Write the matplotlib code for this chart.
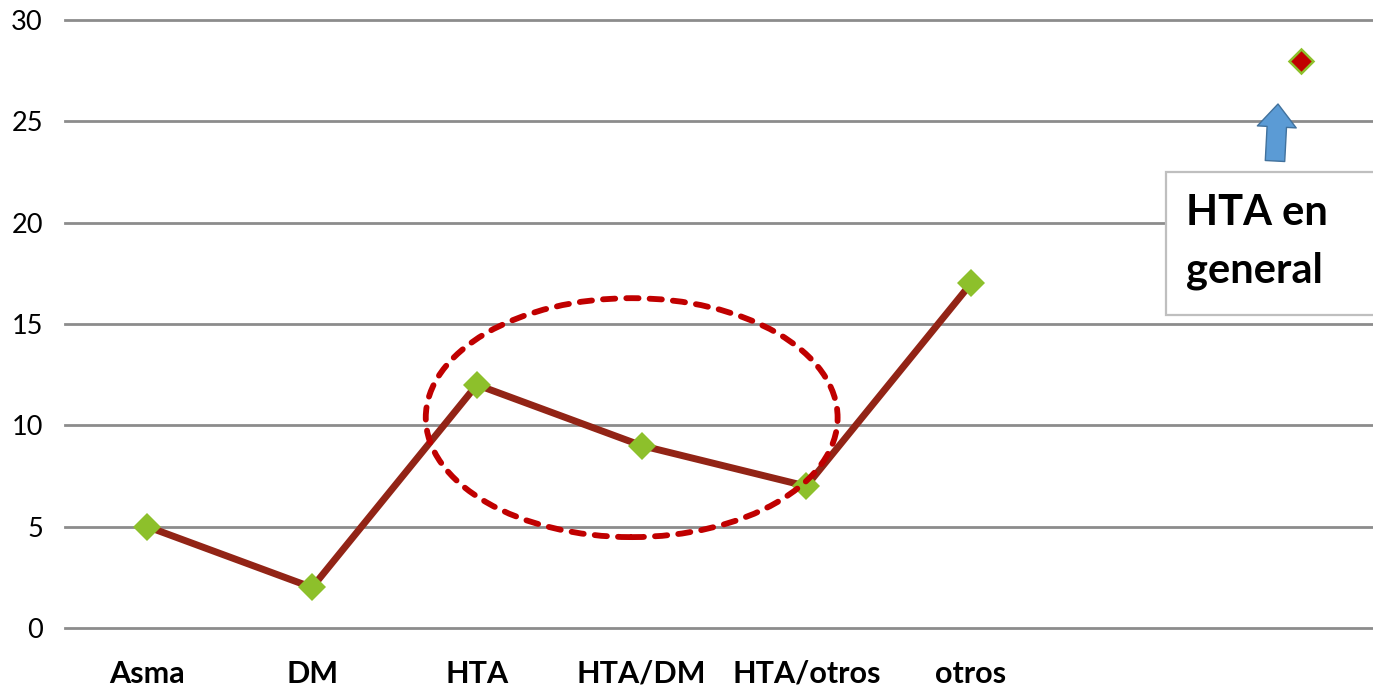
import matplotlib.pyplot as plt
from matplotlib.patches import Ellipse, Rectangle

# chart data
categories = ['Asma', 'DM', 'HTA', 'HTA/DM', 'HTA/otros', 'otros', '', '']
values = [5, 2, 12, 9, 7, 17]
general_label = 'HTA en\ngeneral'
general_value = 28
y_ticks = [0, 5, 10, 15, 20, 25, 30]

fig = plt.figure(figsize=(13.73, 6.89), dpi=100)
ax = fig.add_axes([0.04734, 0.08853, 0.95266, 0.88244])

ax.set_xlim(-0.5, 7.44)
ax.set_ylim(0, 30)
for s in ax.spines.values():
    s.set_visible(False)

ax.set_yticks(y_ticks)
ax.set_yticklabels([str(t) for t in y_ticks], fontsize=19.5, family='Lato')
ax.set_xticks(range(len(categories)))
ax.set_xticklabels(categories, fontsize=22, family='Lato', fontweight='bold')
ax.tick_params(axis='both', length=0)
ax.tick_params(axis='y', pad=16)
ax.tick_params(axis='x', pad=23)

ax.yaxis.grid(True, color='#8c8c8c', linewidth=2)
ax.set_axisbelow(True)
for gl in ax.get_ygridlines():
    gl.set_clip_on(False)

xs = list(range(len(values)))
ax.plot(xs, values, color='#922416', linewidth=5, marker='D', markersize=14,
        markerfacecolor='#8dc02b', markeredgecolor='#8dc02b', markeredgewidth=0,
        solid_capstyle='round', zorder=3)

# lone point for HTA overall
ax.plot([len(categories) - 1], [general_value], linestyle='none', marker='D',
        markersize=12.5, markerfacecolor='#c00000', markeredgecolor='#8dc02b',
        markeredgewidth=1.8, zorder=3)

# dashed highlight around HTA group
ell = Ellipse((2.94, 10.38), 2.50, 11.79, fill=False, edgecolor='#c00000',
              linewidth=4.2, linestyle=(0, (2.1, 1.9)), capstyle='round', zorder=4)
ax.add_patch(ell)

# text box + arrow
fig.patches.append(Rectangle((1166 / 1373, 1 - 315 / 689), 210 / 1373, 143 / 689,
                             transform=fig.transFigure, facecolor='white',
                             edgecolor='#bfbfbf', linewidth=1.6, zorder=5))
lines = general_label.split('\n')
fig.text(1186 / 1373, 1 - 225 / 689, lines[0], fontsize=30, family='Lato',
         fontweight='bold', va='baseline', ha='left', zorder=6)
fig.text(1186 / 1373, 1 - 282 / 689, lines[1], fontsize=30, family='Lato',
         fontweight='bold', va='baseline', ha='left', zorder=6)

ax.annotate('', xy=(1278, 689 - 104), xycoords='figure pixels',
            xytext=(1275, 689 - 161), textcoords='figure pixels',
            arrowprops=dict(arrowstyle='simple,head_length=16.5,head_width=28,tail_width=14',
                            mutation_scale=1, shrinkA=0, shrinkB=0,
                            facecolor='#5b9bd5', edgecolor='#41719c', linewidth=1))

fig.savefig('out.png', dpi=100)
